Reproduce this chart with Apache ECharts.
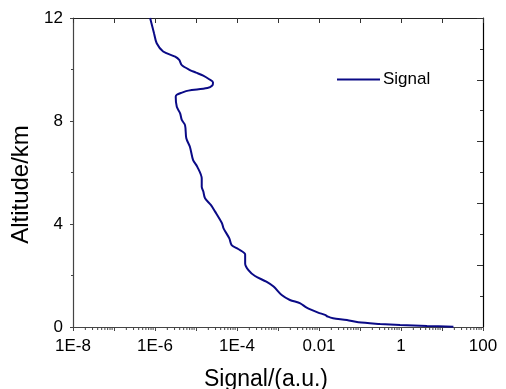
<!DOCTYPE html>
<html><head><meta charset="utf-8">
<script src="https://cdn.jsdelivr.net/npm/echarts@6/dist/echarts.min.js"></script>
<style>html,body{margin:0;padding:0;background:#fff}#c{width:506px;height:389px}</style>
</head><body><div id="c"></div>
<script>
// Altitude (km) and lidar signal (a.u.)
const altitude = [0.01,0.04,0.08,0.12,0.18,0.27,0.34,0.40,0.47,0.56,0.75,0.92,1.05,1.24,1.57,1.76,1.98,2.21,2.47,2.82,3.03,3.18,3.44,3.83,4.03,4.49,4.74,5.00,5.26,5.45,5.58,5.77,6.23,6.48,7.00,7.33,7.84,8.04,8.30,8.55,8.94,9.02,9.10,9.18,9.28,9.38,9.50,9.62,9.76,9.88,9.98,10.17,10.37,10.50,10.70,11.02,11.40,12.00];
const signal = [19,4.3,0.95,0.31,0.091,0.048,0.022,0.0166,0.014,0.0095,0.005,0.0035,0.00195,0.00123,7.8e-4,5.2e-4,2.75e-4,1.9e-4,1.58e-4,1.58e-4,1.07e-4,7.4e-5,6.5e-5,4.7e-5,4.3e-5,2.9e-5,2.3e-5,1.66e-5,1.51e-5,1.38e-5,1.38e-5,1.38e-5,1.07e-5,8.5e-6,7.1e-6,5.8e-6,5.4e-6,4.5e-6,4.1e-6,3.4e-6,3.2e-6,3.4e-6,4.5e-6,6.5e-6,1.9e-5,2.5e-5,2.6e-5,2.1e-5,1.5e-5,1.0e-5,7.1e-6,4.5e-6,3.9e-6,3.1e-6,1.58e-6,1.1e-6,9.5e-7,7.6e-7];
const xTickLabels = {'-8':'1E-8','-6':'1E-6','-4':'1E-4','-2':'0.01','0':'1','2':'100'};
const yTickLabels = [0,4,8,12];
const seriesName = 'Signal';

const minorX = [];
for (let e = -8; e < 2; e++) for (let m = 2; m <= 9; m++) minorX.push([m * Math.pow(10, e), 0]);

const chart = echarts.init(document.getElementById('c'), null, {renderer:'canvas'});
const font = 'Liberation Sans, Arial, sans-serif';
const lineColor = '#0a0a86';
chart.setOption({
  animation:false,
  backgroundColor:'#fff',
  grid:{left:73,right:23,top:18,bottom:62,containLabel:false,outerBoundsMode:'none'},
  legend:{data:[{name:seriesName,icon:'rect'}],left:332,top:66,itemWidth:43,itemHeight:2,itemGap:4,
    itemStyle:{color:lineColor},
    textStyle:{fontFamily:font,fontSize:17,color:'#000',padding:[0,0,0,-2]}},
  xAxis:[{
    type:'log',logBase:10,min:1e-8,max:100,interval:1,
    name:'Signal/(a.u.)',nameLocation:'middle',nameGap:41,
    nameTextStyle:{fontFamily:font,fontSize:23,color:'#000',padding:[0,24,0,0]},
    axisLine:{show:true,onZero:false,lineStyle:{color:'#444',width:1.2}},
    axisTick:{show:true,inside:false,length:4,lineStyle:{color:'#444'}},
    axisLabel:{fontFamily:font,fontSize:17,color:'#000',margin:11,
      formatter:function(v){const e=Math.round(Math.log10(v));return xTickLabels[String(e)]||'';}},
    splitLine:{show:false},minorTick:{show:false}
  },{
    type:'log',logBase:10,min:1e-8,max:100,interval:1,position:'top',
    axisLine:{show:true,onZero:false,lineStyle:{color:'#222',width:1.2}},
    axisTick:{show:true,inside:true,length:5,lineStyle:{color:'#333'}},
    axisLabel:{show:false},splitLine:{show:false}
  }],
  yAxis:[{
    type:'value',min:0,max:12,interval:4,
    name:'Altitude/km',nameLocation:'middle',nameGap:37,
    nameTextStyle:{fontFamily:font,fontSize:24,color:'#000',padding:[0,24,0,0]},
    axisLine:{show:true,onZero:false,lineStyle:{color:'#444',width:1.2}},
    axisTick:{show:true,inside:false,length:3,lineStyle:{color:'#444'}},
    minorTick:{show:true,splitNumber:2,length:2,lineStyle:{color:'#444'}},
    axisLabel:{fontFamily:font,fontSize:17,color:'#000',margin:10,
      formatter:function(v){return yTickLabels.indexOf(Math.round(v))>=0?String(Math.round(v)):'';}},
    splitLine:{show:false},minorSplitLine:{show:false}
  },{
    type:'value',min:0,max:12,interval:2.4,position:'right',
    axisLine:{show:true,onZero:false,lineStyle:{color:'#000',width:1.2}},
    axisTick:{show:true,inside:true,length:6,lineStyle:{color:'#333'}},
    minorTick:{show:true,splitNumber:2,length:3,lineStyle:{color:'#333'}},
    axisLabel:{show:false},splitLine:{show:false},minorSplitLine:{show:false}
  }],
  series:[{
    name:seriesName,type:'line',xAxisIndex:0,yAxisIndex:0,
    data:signal.map((s,i)=>[s,altitude[i]]),
    symbol:'none',showSymbol:false,smooth:0.3,
    lineStyle:{color:lineColor,width:2},itemStyle:{color:lineColor}
  },{
    type:'custom',xAxisIndex:0,yAxisIndex:0,silent:true,clip:false,
    data:minorX,
    renderItem:function(params,api){
      const p=api.coord([api.value(0),0]);
      return {type:'line',shape:{x1:p[0],y1:p[1],x2:p[0],y2:p[1]+3},style:{stroke:'#444',lineWidth:1}};
    }
  }]
});
</script></body></html>
